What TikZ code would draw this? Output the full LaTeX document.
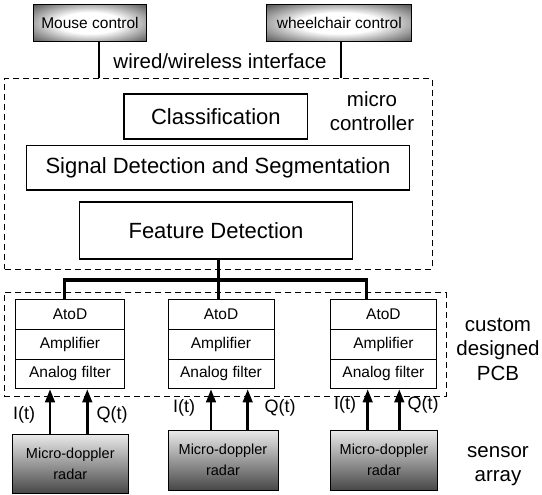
\documentclass[tikz,border=0pt]{standalone}
\usepackage{fontspec}
\setmainfont{Liberation Sans}
\usetikzlibrary{positioning,arrows.meta}
\pgfdeclareradialshading{ctrlshade}{\pgfpoint{0bp}{0bp}}{color(0bp)=(white); color(14bp)=(white); color(25bp)=(black!35); color(35bp)=(black!66); color(50bp)=(black!66)}

\begin{document}
\begin{tikzpicture}[x=1pt,y=-1pt]
	\tikzstyle{ctrl_style} = [draw=black,line width=1pt,inner sep=0pt,shading=ctrlshade,font=\fontsize{15.5}{18}\selectfont]
	\tikzstyle{box_style} = [draw=black,line width=1.1pt,inner sep=0pt,font=\fontsize{22}{26}\selectfont]
	\tikzstyle{stage_style} = [draw=black,line width=1pt,inner sep=0pt,minimum height=29.7pt,font=\fontsize{15.5}{18}\selectfont]
	\tikzstyle{radar_style} = [draw=black,line width=1pt,inner sep=0pt,top color=black!8,bottom color=black!72,align=center,font=\fontsize{14.5}{21}\selectfont]
	\tikzstyle{group_style} = [draw=black,line width=1pt,dash pattern=on 6pt off 4pt,inner sep=0pt]
	\tikzstyle{label_style} = [align=center,font=\fontsize{20.5}{24.5}\selectfont]
	\tikzstyle{sig_label} = [font=\fontsize{18}{20}\selectfont]
	\tikzstyle{link_style} = [draw=black,line width=2pt]
	\tikzstyle{bus_style} = [draw=black,line width=3.2pt]
	\tikzstyle{sig_style} = [draw=black,line width=2.6pt,-{Triangle[length=13pt,width=9.5pt]}]
	\useasboundingbox (0,0) rectangle (542,495);

	% controls and interface
	\node[ctrl_style,minimum width=113.4pt,minimum height=37.7pt] (mouse) at (90,22.9) {Mouse control};
	\node[ctrl_style,minimum width=145.3pt,minimum height=37.4pt] (wheel) at (339.3,23) {wheelchair control};
	\node[label_style] (iface) at (220,61) {wired/wireless interface};

	% micro controller
	\node[group_style,minimum width=427.3pt,minimum height=190pt] (mc) at (218.35,174) {};
	\node[label_style] (mclabel) at (372,111) {micro\\controller};
	\node[box_style,minimum width=183.7pt,minimum height=45pt] (cls) at (215.85,116.5) {Classification};
	\node[box_style,minimum width=382.6pt,minimum height=44.3pt] (sig) at (218,167.85) {Signal Detection and Segmentation};
	\node[box_style,minimum width=273.4pt,minimum height=57pt] (feat) at (216,230.5) {Feature Detection};

	% custom PCB
	\node[group_style,minimum width=442pt,minimum height=103.3pt] (pcb) at (225,344.35) {};
	\node[label_style] (pcblabel) at (498,349) {custom\\designed\\PCB};
	\node[stage_style,minimum width=108.8pt] (s1a) at (70,314.5) {AtoD};
	\node[stage_style,minimum width=108.8pt] (s1b) at (70,344.2) {Amplifier};
	\node[stage_style,minimum width=108.8pt] (s1c) at (70,373.9) {Analog filter};
	\node[stage_style,minimum width=106pt] (s2a) at (221,314.5) {AtoD};
	\node[stage_style,minimum width=106pt] (s2b) at (221,344.2) {Amplifier};
	\node[stage_style,minimum width=106pt] (s2c) at (221,373.9) {Analog filter};
	\node[stage_style,minimum width=106.7pt] (s3a) at (383.4,314.5) {AtoD};
	\node[stage_style,minimum width=106.7pt] (s3b) at (383.4,344.2) {Amplifier};
	\node[stage_style,minimum width=106.7pt] (s3c) at (383.4,373.9) {Analog filter};

	% sensors
	\node[radar_style,minimum width=116pt,minimum height=59pt] (r1) at (70.3,463.5) {Micro-doppler\\radar};
	\node[radar_style,minimum width=110pt,minimum height=60pt] (r2) at (223,460) {Micro-doppler\\radar};
	\node[radar_style,minimum width=106.6pt,minimum height=60pt] (r3) at (384,460) {Micro-doppler\\radar};
	\node[label_style] (senslabel) at (498,466) {sensor\\array};

	\node[sig_label] (i1l) at (24,415) {I(t)};
	\node[sig_label] (q1l) at (112,415) {Q(t)};
	\node[sig_label] (i2l) at (184,408) {I(t)};
	\node[sig_label] (q2l) at (280,408) {Q(t)};
	\node[sig_label] (i3l) at (345,405) {I(t)};
	\node[sig_label] (q3l) at (423,405) {Q(t)};

	% taps
	\coordinate (mtap) at (98.7,41.7);
	\coordinate (wtap) at (341,41.7);
	\coordinate (b1) at (64.3,280);
	\coordinate (b2) at (218.3,280);
	\coordinate (b3) at (366.7,280);
	\coordinate (i1) at (50,0);
	\coordinate (q1) at (87.3,0);
	\coordinate (i2) at (211,0);
	\coordinate (q2) at (247.7,0);
	\coordinate (i3) at (367.7,0);
	\coordinate (q3) at (399.3,0);

	\draw[link_style] (mtap) -- (mtap |- mc.north);
	\draw[link_style] (wtap) -- (wtap |- mc.north);
	\draw[bus_style] (b1 |- s1a.north) -- (b1) -- (b3) -- (b3 |- s3a.north);
	\draw[bus_style] (b2 |- feat.south) -- (b2 |- s2a.north);

	\draw[sig_style] (i1 |- r1.north) -- (i1 |- s1c.south);
	\draw[sig_style] (q1 |- r1.north) -- (q1 |- s1c.south);
	\draw[sig_style] (i2 |- r2.north) -- (i2 |- s2c.south);
	\draw[sig_style] (q2 |- r2.north) -- (q2 |- s2c.south);
	\draw[sig_style] (i3 |- r3.north) -- (i3 |- s3c.south);
	\draw[sig_style] (q3 |- r3.north) -- (q3 |- s3c.south);
\end{tikzpicture}
\end{document}
